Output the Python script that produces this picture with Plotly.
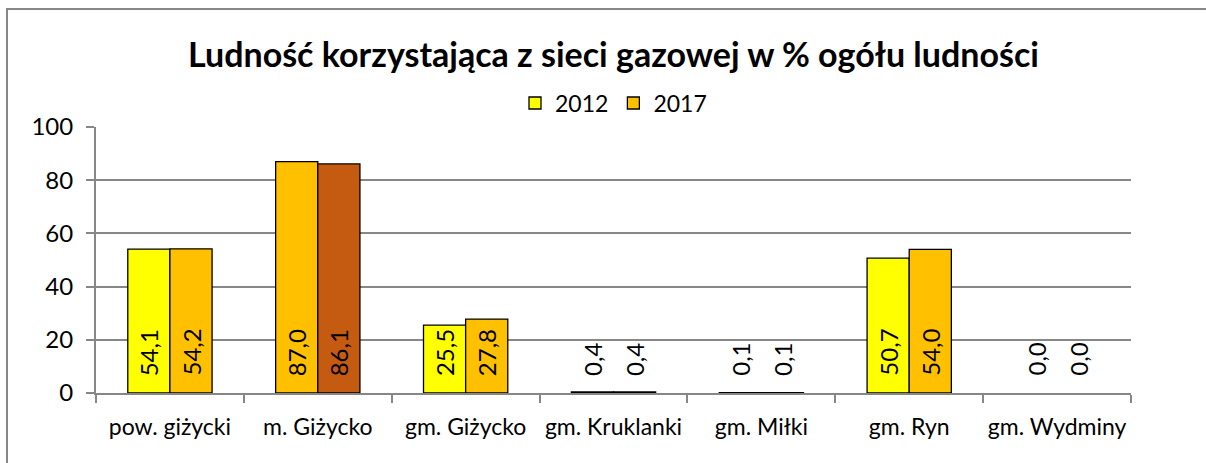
import plotly.graph_objects as go

# Gminy / obszary
categories = ["pow. giżycki", "m. Giżycko", "gm. Giżycko", "gm. Kruklanki",
              "gm. Miłki", "gm. Ryn", "gm. Wydminy"]

# Ludność korzystająca z sieci gazowej (% ogółu ludności)
values_2012 = [54.1, 87.0, 25.5, 0.4, 0.1, 50.7, 0.0]
values_2017 = [54.2, 86.1, 27.8, 0.4, 0.1, 54.0, 0.0]

# Colours per bar (m. Giżycko highlighted with darker shades)
colors_2012 = ["#FFFF00", "#FFC000", "#FFFF00", "#FFFF00", "#FFFF00", "#FFFF00", "#FFFF00"]
colors_2017 = ["#FFC000", "#C55A11", "#FFC000", "#FFC000", "#FFC000", "#FFC000", "#FFC000"]

FONT = "Lato"
GRID = "#878787"
BARGAP = 0.43
bar_w = (1 - BARGAP) / 2


def fmt(v):
    return f"{v:.1f}".replace(".", ",")


def outline(vals):
    # no outline for empty bars
    return [1.3 if v > 0 else 0 for v in vals]


fig = go.Figure()
fig.add_trace(go.Bar(
    name="2012", x=categories, y=values_2012,
    marker=dict(color=colors_2012, line=dict(color="#000000", width=outline(values_2012))),
))
fig.add_trace(go.Bar(
    name="2017", x=categories, y=values_2017,
    marker=dict(color=colors_2017, line=dict(color="#000000", width=outline(values_2017))),
))

# Value labels, rotated, sitting near the base of each bar
annotations = []
for i, (a, b) in enumerate(zip(values_2012, values_2017)):
    for off, v in ((-bar_w / 2, a), (bar_w / 2, b)):
        annotations.append(dict(
            x=i + off, y=0, xref="x", yref="y",
            text=fmt(v), textangle=-90, showarrow=False,
            xanchor="center", yanchor="bottom", yshift=15,
            font=dict(family=FONT, size=24, color="#000000"),
        ))

fig.update_layout(
    width=1206, height=463,
    margin=dict(l=96, r=75, t=127, b=70, autoexpand=False),
    paper_bgcolor="#FFFFFF", plot_bgcolor="#FFFFFF",
    barmode="group", bargap=BARGAP, bargroupgap=0,
    title=dict(
        text="<b>Ludność korzystająca z sieci gazowej w % ogółu ludności</b>",
        x=0.5, xref="paper", xanchor="center",
        y=1 - 55 / 463, yref="container", yanchor="middle",
        font=dict(family=FONT, size=34, color="#000000"),
    ),
    legend=dict(
        orientation="h", x=0.5, xanchor="center", y=1.09, yanchor="middle",
        font=dict(family=FONT, size=23, color="#000000"),
        itemwidth=30, traceorder="normal",
    ),
    xaxis=dict(
        type="category", range=[-0.5, len(categories) - 0.5],
        showline=True, linecolor=GRID, linewidth=2,
        ticks="outside", tickson="boundaries", ticklen=8, tickcolor=GRID, tickwidth=2,
        showgrid=False, tickangle=0, automargin=False,
        ticklabelstandoff=12,
        tickfont=dict(family=FONT, size=23, color="#000000"),
    ),
    yaxis=dict(
        range=[0, 100], dtick=20,
        showline=True, linecolor=GRID, linewidth=2,
        ticks="outside", ticklen=8, tickcolor=GRID, tickwidth=2,
        showgrid=True, gridcolor=GRID, gridwidth=2,
        zeroline=False, automargin=False,
        tickfont=dict(family=FONT, size=24, color="#000000"),
        ticklabelstandoff=8,
    ),
    annotations=annotations,
    shapes=[dict(
        type="rect", xref="paper", yref="paper",
        x0=(7 - 96) / 1035, x1=1.2, y0=-1.0, y1=(393 - 9) / 266,
        line=dict(color=GRID, width=2), fillcolor="rgba(0,0,0,0)", layer="below",
    )],
    showlegend=True,
)

fig.write_html("out.html")
